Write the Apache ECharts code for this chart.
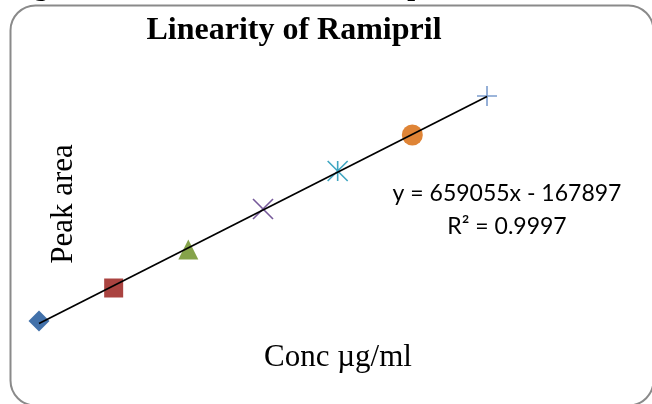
<!DOCTYPE html>
<html>
<head>
<meta charset="utf-8">
<script src="https://cdn.jsdelivr.net/npm/echarts@6/dist/echarts.min.js"></script>
<style>
html,body{margin:0;padding:0;background:#fff;}
#c{width:652px;height:404px;}
</style>
</head>
<body>
<div id="c"></div>
<script>
// ---- data ----
const conc = [1, 2, 3, 4, 5, 6, 7];
const peakArea = [533800, 1108600, 1779100, 2484500, 3146400, 3773400, 4452700];
const trendSlope = 659055;
const trendIntercept = -167897;
const eqText = 'y = 659055x - 167897';
const r2Text = 'R² = 0.9997';
const titleText = 'Linearity of Ramipril';
const xName = 'Conc µg/ml';
const yName = 'Peak area';
const captionText = 'Fig. 3: Calibration curve of Ramipril';

// ---- styles ----
const markerSymbols = [
  'diamond', 'rect', 'triangle',
  'path://M0,0L20,20M20,0L0,20',
  'path://M10,0L10,20M0,0L20,20M20,0L0,20',
  'circle',
  'path://M10,0L10,20M0,10L20,10'
];
const markerColors = ['#4271AA', '#AA4340', '#85A34A', '#76599A', '#3FA6C1', '#DF8436', '#7C9DCE'];
const markerStroked = [false, false, false, true, true, false, true];
const markerSizes = [21, 19, 20, 20, 20, 21, 20];

const points = conc.map((c, i) => ({
  value: [c, peakArea[i]],
  symbol: markerSymbols[i],
  symbolSize: markerSizes[i],
  itemStyle: markerStroked[i]
    ? { color: 'none', borderColor: markerColors[i], borderWidth: 1.6, opacity: 1 }
    : { color: markerColors[i], borderWidth: 0, opacity: 1 }
}));

const xMin = conc[0], xMax = conc[conc.length - 1];
const trend = [[xMin, trendSlope * xMin + trendIntercept], [xMax, trendSlope * xMax + trendIntercept]];

const chart = echarts.init(document.getElementById('c'), null, { renderer: 'canvas' });
chart.setOption({
  animation: false,
  backgroundColor: '#ffffff',
  grid: { left: 1.67, top: 64.57, width: 522.67, height: 287.08, containLabel: false },
  xAxis: { type: 'value', min: 0.5, max: 7.5, show: false },
  yAxis: { type: 'value', min: 0, max: 5000000, show: false },
  series: [
    {
      type: 'line', data: trend, symbol: 'none', z: 3,
      lineStyle: { color: '#000000', width: 1.7 }
    },
    {
      type: 'scatter', data: points, z: 2
    }
  ],
  graphic: [
    {
      type: 'rect', shape: { x: 10.5, y: 5.5, width: 643, height: 400, r: 25 },
      style: { fill: 'none', stroke: '#8a8a8a', lineWidth: 2 }, z: 1
    },
    {
      type: 'text', left: 9, top: -26,
      style: { text: captionText, font: 'bold 28px "Liberation Serif", "Times New Roman", serif', fill: '#000' }
    },
    {
      type: 'text', x: 294, y: 31,
      style: { text: titleText, font: 'bold 32px "Liberation Serif", "Times New Roman", serif', fill: '#000', align: 'center', verticalAlign: 'middle' }
    },
    {
      type: 'text', x: 64, y: 204, rotation: Math.PI / 2,
      style: { text: yName, font: '31px "Liberation Serif", "Times New Roman", serif', fill: '#000', align: 'center', verticalAlign: 'middle' }
    },
    {
      type: 'text', x: 338, y: 358,
      style: { text: xName, font: '31px "Liberation Serif", "Times New Roman", serif', fill: '#000', align: 'center', verticalAlign: 'middle' }
    },
    {
      type: 'text', x: 507, y: 194,
      style: { text: eqText, font: '23px Lato, "Open Sans", sans-serif', fill: '#000', align: 'center', verticalAlign: 'middle' }
    },
    {
      type: 'text', x: 507, y: 227,
      style: { text: r2Text, font: '23px Lato, "Open Sans", sans-serif', fill: '#000', align: 'center', verticalAlign: 'middle' }
    }
  ]
});
</script>
</body>
</html>
